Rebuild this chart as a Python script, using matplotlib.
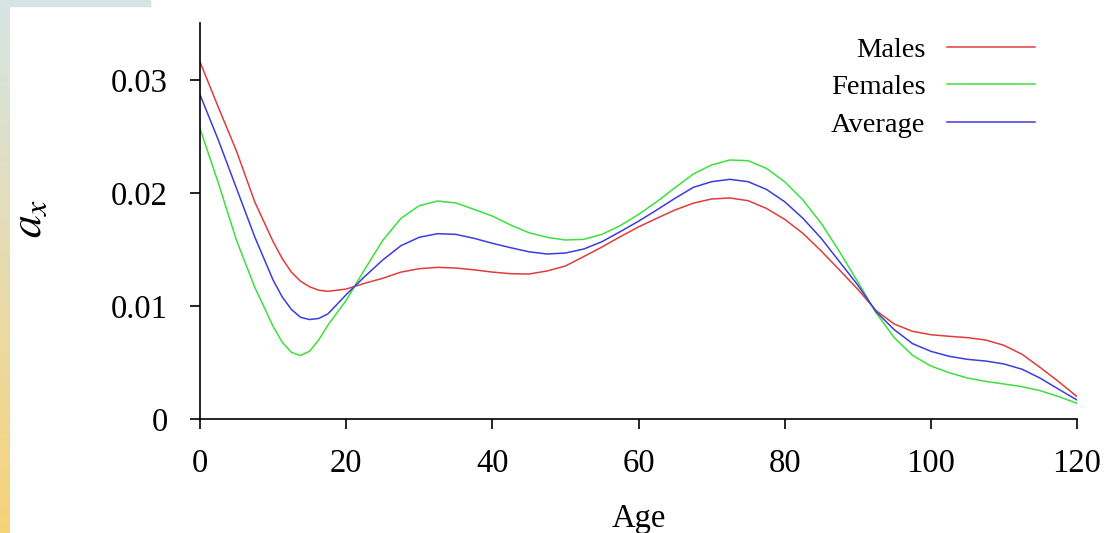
import numpy as np
import matplotlib
matplotlib.use("Agg")
import matplotlib.pyplot as plt
from matplotlib.patches import Rectangle

plt.rcParams['font.family'] = ['Liberation Serif', 'DejaVu Serif']
plt.rcParams['mathtext.fontset'] = 'stix'

# ages (finer around the early-age trough)
ages = [0, 2.5, 5, 7.5, 10, 11.25, 12.5, 13.75, 15, 16.25, 17.5, 20, 22.5, 25, 27.5,
        30, 32.5, 35, 37.5, 40, 42.5, 45, 47.5, 50, 52.5, 55, 57.5, 60, 62.5, 65,
        67.5, 70, 72.5, 75, 77.5, 80, 82.5, 85, 87.5, 90, 92.5, 95, 97.5, 100, 102.5,
        105, 107.5, 110, 112.5, 115, 117.5, 120]

males = [0.0316, 0.0276, 0.0237, 0.0192, 0.0157, 0.0142, 0.0130, 0.0122, 0.0117,
         0.0114, 0.0113, 0.0115, 0.0120, 0.01245, 0.0130, 0.0133, 0.01342, 0.01336,
         0.0132, 0.0130, 0.01286, 0.01283, 0.0131, 0.01354, 0.01437, 0.01522, 0.01613,
         0.0170, 0.01776, 0.0185, 0.0191, 0.01947, 0.01956, 0.01932, 0.01864, 0.01767,
         0.01643, 0.01487, 0.01319, 0.01148, 0.0096, 0.0084, 0.00776, 0.00746, 0.00732,
         0.0072, 0.00699, 0.00652, 0.00572, 0.00454, 0.0033, 0.00198]

females = [0.0257, 0.0209, 0.0158, 0.01165, 0.0082, 0.0068, 0.0059, 0.00562, 0.0060,
           0.0070, 0.0083, 0.0105, 0.0132, 0.0158, 0.01776, 0.01888, 0.01929, 0.01912,
           0.01855, 0.01796, 0.01717, 0.01649, 0.01608, 0.01584, 0.0159, 0.01634,
           0.01711, 0.0181, 0.01923, 0.02047, 0.02168, 0.02248, 0.02292, 0.02286,
           0.02218, 0.0210, 0.01938, 0.01732, 0.01481, 0.01215, 0.0094, 0.0072,
           0.00563, 0.00469, 0.0041, 0.00363, 0.00333, 0.0031, 0.00286, 0.0025,
           0.00198, 0.00139]

average = [0.0287, 0.0247, 0.0204, 0.0161, 0.0123, 0.0108, 0.0097, 0.0090, 0.0088,
           0.0089, 0.0093, 0.0110, 0.01259, 0.01407, 0.01534, 0.01608, 0.0164, 0.01634,
           0.01599, 0.01555, 0.01516, 0.0148, 0.0146, 0.01469, 0.01504, 0.01569,
           0.01658, 0.0175, 0.0185, 0.01953, 0.0205, 0.021, 0.02121, 0.021, 0.02032,
           0.01923, 0.01776, 0.01599, 0.01392, 0.01186, 0.0095, 0.0079, 0.00667,
           0.00599, 0.00555, 0.00528, 0.00513, 0.00487, 0.0044, 0.0036, 0.00263, 0.00168]

W, H = 1111, 533
fig = plt.figure(figsize=(W / 100, H / 100), dpi=100)

# decorative strip on the left edge (slide background)
strip = fig.add_axes([0, 0, 10 / W, 1])
top_c = np.array([214, 228, 228]) / 255
bot_c = np.array([247, 211, 122]) / 255
t = np.linspace(0, 1, 256)[:, None]
grad = (1 - t) * top_c + t * bot_c
strip.imshow(grad[:, None, :], aspect='auto', extent=[0, 1, 0, 1])
strip.axis('off')
fig.patches.append(Rectangle((0, 1 - 6 / H), 150 / W, 6 / H, transform=fig.transFigure,
                             color=top_c, zorder=0))

ax = fig.add_axes([200 / W, (H - 419) / H, 877 / W, 395.5 / H])

ax.plot(ages, males, color='#e03c3c', lw=1.1)
ax.plot(ages, females, color='#3ce03c', lw=1.1)
ax.plot(ages, average, color='#3c3ce0', lw=1.1)

ax.set_xlim(0, 120)
ax.set_ylim(0, 0.035)
ax.set_xticks([0, 20, 40, 60, 80, 100, 120])
ax.set_yticks([0, 0.01, 0.02, 0.03])
ax.set_yticklabels(['0', '0.01', '0.02', '0.03'])

for s in ['top', 'right']:
    ax.spines[s].set_visible(False)
for s in ['left', 'bottom']:
    ax.spines[s].set_linewidth(1.2)
ax.tick_params(direction='out', length=7, width=1.2, labelsize=23.5)
ax.tick_params(axis='x', pad=14)
ax.tick_params(axis='y', pad=16)

fig.text(30 / W, 1 - 218 / H, r'$a_x$', rotation=90, ha='center', va='center', fontsize=33)
fig.text(638.5 / W, 1 - 519 / H, 'Age', ha='center', va='center', fontsize=23.5)

leg = ax.legend(['Males', 'Females', 'Average'], loc='upper right',
                bbox_to_anchor=(1035 / W, 1 - 37 / H), bbox_transform=fig.transFigure,
                frameon=False, markerfirst=False, fontsize=20.5, handlelength=3.1,
                handletextpad=0.75, labelspacing=0.4, borderpad=0, borderaxespad=0)

fig.savefig('out.png', dpi=100)
